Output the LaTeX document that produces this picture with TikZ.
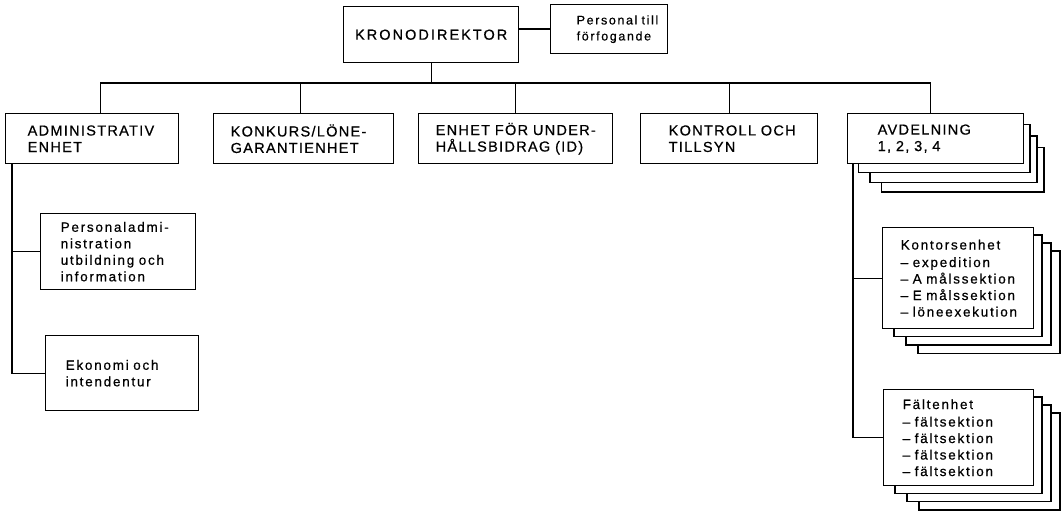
\documentclass[tikz,border=0pt]{standalone}
\usepackage{fontspec}
\setmainfont{Liberation Sans}
\newfontfamily\capsfont[LetterSpace=9,WordSpace=1.3,FakeBold=0.6]{Liberation Sans}
\newfontfamily\kronofont[LetterSpace=14,FakeBold=0.6]{Liberation Sans}
\newfontfamily\lowfont[LetterSpace=13,WordSpace=1.6,FakeBold=0.6]{Liberation Sans}
\begin{document}
\begin{tikzpicture}[x=1pt,y=-1pt,
  every path/.style={line width=1.4pt},
  orgbox/.style={draw, fill=white, line width=1.4pt, anchor=north west, align=left, inner ysep=0pt},
  capstext/.style={font=\capsfont\fontsize{14.5}{16.5}\selectfont},
  lowtext/.style={font=\lowfont\fontsize{13.5}{16.5}\selectfont},
  sheet/.style={draw, fill=white, line width=1.4pt}
]
\useasboundingbox (0,0) rectangle (1062,524);

% top level
\node[orgbox, align=center, minimum width=175, minimum height=56, inner xsep=0pt,
      font=\kronofont\fontsize{14.5}{16}\selectfont] (krono) at (343,6) {KRONODIREKTOR};
\node[orgbox, minimum width=117, minimum height=49, inner xsep=26, text width=65,
      font=\lowfont\fontsize{12.5}{16}\selectfont] (pers) at (550,4) {\mbox{Personal~till}\\förfogande};

% second level
\node[orgbox, capstext, minimum width=173, minimum height=50, inner xsep=22, text width=129] (admin) at (5,113) {ADMINISTRATIV\\ENHET};
\node[orgbox, capstext, minimum width=180, minimum height=50, inner xsep=17, text width=146] (konk) at (213,113) {\mbox{KONKURS/LÖNE-}\\GARANTIENHET};
\node[orgbox, capstext, minimum width=194, minimum height=50, inner xsep=17, text width=160] (enhet) at (418,113) {\mbox{ENHET~FÖR~UNDER-}\\\mbox{HÅLLSBIDRAG~(ID)}};
\node[orgbox, capstext, minimum width=177, minimum height=50, inner xsep=28, text width=121] (kontr) at (640,113) {\mbox{KONTROLL~OCH}\\TILLSYN};

% stacked sheets behind AVDELNING
\foreach \i in {3,2,1}{
  \draw[sheet] ({847+11.5*\i},{113+11.5*\i}) rectangle ({1023+7*\i},{163+9.7*\i});
}
\node[orgbox, capstext, minimum width=176, minimum height=50, inner xsep=30, text width=116] (avd) at (847,113) {AVDELNING\\1,~2,~3,~4};

% left column
\node[orgbox, lowtext, minimum width=155, minimum height=76, inner xsep=20, text width=115] (padm) at (40,213) {\mbox{Personaladmi-}\\nistration\\\mbox{utbildning~och}\\information};
\node[orgbox, lowtext, minimum width=153, minimum height=75, inner xsep=20, text width=113] (ekon) at (45,335) {\mbox{Ekonomi~och}\\intendentur};

% right column stacks
\foreach \i in {3,2,1}{
  \draw[sheet] ({882+12*\i},{227+8*\i}) rectangle ({1033+9*\i},{328+8.4*\i});
  \draw[sheet] ({883+12*\i},{389+8*\i}) rectangle ({1033+9*\i},{485+8.3*\i});
}
\node[orgbox, lowtext, minimum width=151, minimum height=101, inner xsep=18, text width=115] (kont) at (882,227)
  {Kontorsenhet\\[1pt]\mbox{–~expedition}\\\mbox{–~A~målssektion}\\\mbox{–~E~målssektion}\\\mbox{–~löneexekution}};
\node[orgbox, lowtext, minimum width=150, minimum height=96, inner xsep=19, text width=112] (falt) at (883,389)
  {Fältenhet\\[1pt]\mbox{–~fältsektion}\\\mbox{–~fältsektion}\\\mbox{–~fältsektion}\\\mbox{–~fältsektion}};

% connectors
\coordinate (bus) at (430,83);
\draw (pers.west) -- (pers.west -| krono.east);
\draw (krono.south) -- (krono.south |- bus);
\draw ([xshift=8.5]admin.north) |- (bus) -| ([xshift=-5]avd.north);
\draw ([xshift=-3]konk.north) -- ([xshift=-3]konk.north |- bus);
\draw (enhet.north) -- (enhet.north |- bus);
\draw (kontr.north) -- (kontr.north |- bus);

\coordinate (ltop) at ([xshift=7]admin.south west);
\draw (ltop) |- (ekon.west);
\draw (padm.west) -- (padm.west -| ltop);

\coordinate (rtop) at ([xshift=6]avd.south west);
\draw (rtop) |- (falt.west);
\draw (kont.west) -- (kont.west -| rtop);
\end{tikzpicture}
\end{document}
